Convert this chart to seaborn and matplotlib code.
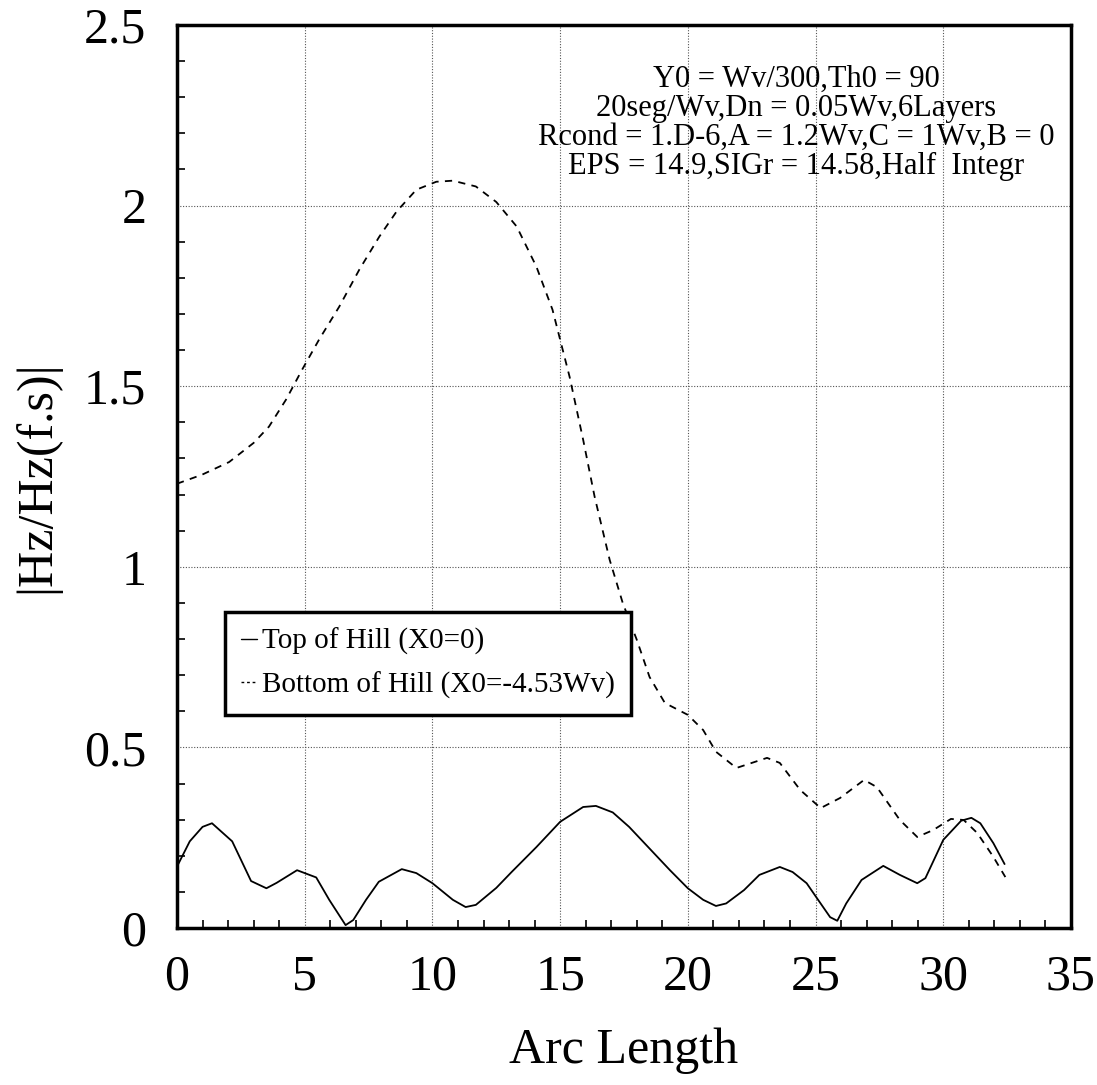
import numpy as np
import pandas as pd
import matplotlib
matplotlib.use("Agg")
import matplotlib.pyplot as plt
from matplotlib.lines import Line2D
from matplotlib.ticker import MultipleLocator, FixedLocator, FixedFormatter
import seaborn as sns

# ---- data ----
top_x = [0.0, 0.5, 1.0, 1.37, 2.16, 2.9, 3.5, 3.9, 4.7, 5.45, 5.96, 6.6, 6.9, 7.4, 7.9, 8.8,
         9.37, 10.0, 10.8, 11.3, 11.7, 12.5, 13.1, 14.07, 15.0, 15.9, 16.4, 17.06, 17.7, 18.5,
         19.3, 20.0, 20.6, 21.1, 21.5, 22.2, 22.8, 23.6, 24.1, 24.65, 25.05, 25.57, 25.85,
         26.2, 26.8, 27.65, 28.3, 28.98, 29.3, 30.0, 30.7, 31.1, 31.45, 31.96, 32.4]
top_y = [0.17, 0.24, 0.28, 0.29, 0.24, 0.13, 0.11, 0.125, 0.16, 0.14, 0.078, 0.008, 0.022,
         0.078, 0.128, 0.163, 0.152, 0.124, 0.078, 0.058, 0.064, 0.111, 0.155, 0.224, 0.294,
         0.335, 0.338, 0.32, 0.28, 0.22, 0.16, 0.11, 0.078, 0.061, 0.068, 0.105, 0.147, 0.169,
         0.155, 0.124, 0.083, 0.03, 0.02, 0.068, 0.133, 0.172, 0.147, 0.124, 0.138, 0.244,
         0.297, 0.305, 0.29, 0.235, 0.177]

bot_x = [0.0, 0.98, 2.04, 3.0, 3.6, 4.27, 4.9, 5.57, 6.35, 7.14, 7.92, 8.59, 9.37, 10.15, 10.8,
         11.7, 12.5, 13.3, 14.07, 14.7, 15.37, 15.9, 16.35, 16.94, 17.45, 18.0, 18.5, 19.1,
         20.0, 20.6, 21.1, 21.9, 23.1, 23.6, 24.4, 25.2, 25.96, 26.9, 27.4, 28.3, 28.98, 29.6,
         30.3, 30.8, 31.33, 31.96, 32.43]
bot_y = [1.23, 1.255, 1.29, 1.343, 1.388, 1.463, 1.546, 1.63, 1.72, 1.823, 1.914, 1.983, 2.044,
         2.066, 2.069, 2.053, 2.01, 1.942, 1.831, 1.712, 1.526, 1.352, 1.194, 1.019, 0.9, 0.798,
         0.695, 0.623, 0.59, 0.548, 0.488, 0.443, 0.471, 0.457, 0.382, 0.332, 0.36, 0.41, 0.39,
         0.299, 0.252, 0.271, 0.302, 0.299, 0.263, 0.197, 0.141]

series_labels = ["Top of Hill (X0=0)", "Bottom of Hill (X0=-4.53Wv)"]
x_ticks = [0, 5, 10, 15, 20, 25, 30, 35]
x_ticklabels = ["0", "5", "10", "15", "20", "25", "30", "35"]
y_ticks = [0, 0.5, 1, 1.5, 2, 2.5]
y_ticklabels = ["0", "0.5", "1", "1.5", "2", "2.5"]
annotation = ("Y0 = Wv/300,Th0 = 90\n20seg/Wv,Dn = 0.05Wv,6Layers\n"
              "Rcond = 1.D-6,A = 1.2Wv,C = 1Wv,B = 0\nEPS = 14.9,SIGr = 14.58,Half  Integr")

# ---- style ----
sns.set_theme(style="white")
plt.rcParams["font.family"] = ["Liberation Serif", "DejaVu Serif"]
plt.rcParams.update({"text.color": "black", "axes.labelcolor": "black",
                     "xtick.color": "black", "ytick.color": "black"})

fig = plt.figure(figsize=(10.97, 10.85), dpi=100)
ax = fig.add_axes([177 / 1097, 1 - 928 / 1085, (1071 - 177) / 1097, (928 - 25) / 1085])

df_top = pd.DataFrame({"x": top_x, "y": top_y})
df_bot = pd.DataFrame({"x": bot_x, "y": bot_y})
sns.lineplot(data=df_top, x="x", y="y", ax=ax, color="black", lw=1.3, sort=False,
             estimator=None)
sns.lineplot(data=df_bot, x="x", y="y", ax=ax, color="black", lw=1.3, sort=False,
             estimator=None)
ax.lines[1].set_dashes([4, 3.5])

ax.set_xlim(0, 35)
ax.set_ylim(0, 2.5)
ax.xaxis.set_major_locator(FixedLocator(x_ticks))
ax.xaxis.set_major_formatter(FixedFormatter(x_ticklabels))
ax.yaxis.set_major_locator(FixedLocator(y_ticks))
ax.yaxis.set_major_formatter(FixedFormatter(y_ticklabels))
ax.xaxis.set_minor_locator(MultipleLocator(1))
ax.yaxis.set_minor_locator(MultipleLocator(0.1))
ax.tick_params(which="major", direction="in", length=13, width=1.5, color="black",
               labelcolor="black", labelsize=36, top=False, right=False)
ax.tick_params(axis="x", which="major", pad=19)
ax.tick_params(axis="y", which="major", pad=22)
ax.tick_params(which="minor", direction="in", length=6, width=1.2, color="black",
               bottom=True, left=True)
for s in ax.spines.values():
    s.set_linewidth(2.5)
    s.set_color("black")

ax.grid(True, which="major", color="#555555", linestyle=(0, (1, 1.5)), lw=0.8)

ax.set_xlabel("Arc Length", fontsize=36, labelpad=19, color="black")
ax.set_ylabel("|Hz/Hz(f.s)|", fontsize=36, labelpad=17, color="black")

ax.text(24.24, 2.39, annotation, ha="center", va="top", fontsize=22, color="black",
        multialignment="center", linespacing=1.0)

handles = [Line2D([], [], color="black", lw=1.0),
           Line2D([], [], color="black", lw=1.0, dashes=[2, 2])]
leg = ax.legend(handles, series_labels, loc="upper left", bbox_to_anchor=(0.054, 0.35),
                borderaxespad=0, fancybox=False, framealpha=1, edgecolor="black",
                fontsize=21, handlelength=0.55, handletextpad=0.15, labelspacing=0.55,
                borderpad=0.55, labelcolor="black")
leg.get_frame().set_linewidth(2.5)

fig.savefig("out.png", dpi=100)
